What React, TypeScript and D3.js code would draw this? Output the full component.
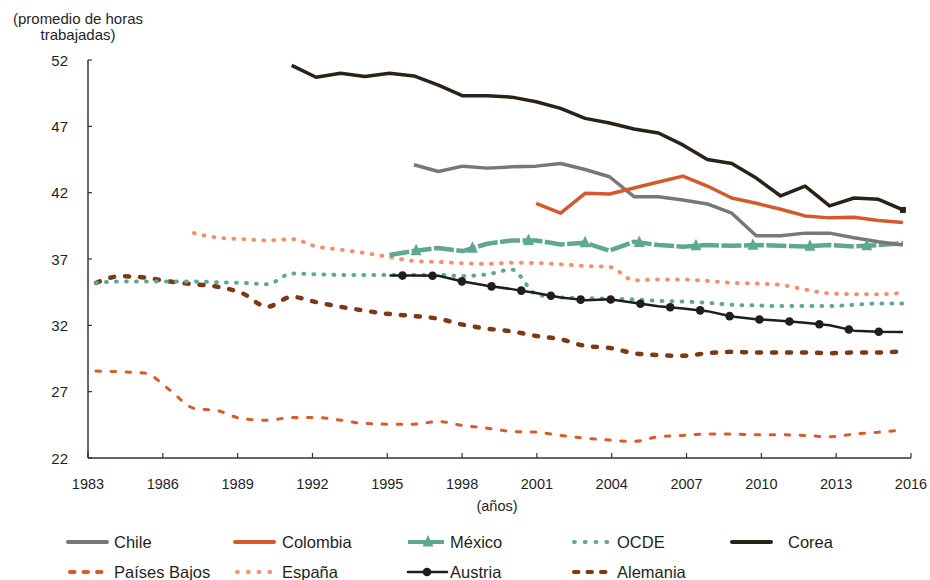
import { useMemo } from "react";
import * as d3 from "d3";

// years on the category axis
const YEARS = d3.range(1983, 2017);
const X_TICKS = d3.range(1983, 2017, 3);
const Y_TICKS = [22, 27, 32, 37, 42, 47, 52];

// average hours worked per week, each series starts at its own year
const chileStart = 1996;
const chile = [44.1, 43.6, 44.0, 43.85, 43.95, 44.0, 44.2, 43.75, 43.2, 41.7, 41.7, 41.45, 41.15, 40.45, 38.75, 38.75, 38.95, 38.95, 38.6, 38.3, 38.05];

const colombiaStart = 2001;
const colombia = [41.2, 40.45, 41.95, 41.9, 42.35, 42.8, 43.25, 42.5, 41.6, 41.2, 40.75, 40.25, 40.1, 40.15, 39.9, 39.75];

const mexicoStart = 1995;
const mexico = [37.3, 37.6, 37.83, 37.6, 38.15, 38.4, 38.4, 38.1, 38.23, 37.63, 38.3, 38.05, 37.93, 38.05, 38.0, 38.05, 38.0, 37.95, 38.05, 37.95, 38.05, 38.2];

const ocdeStart = 1983;
const ocde = [35.2, 35.3, 35.3, 35.3, 35.3, 35.25, 35.2, 35.1, 35.9, 35.85, 35.8, 35.8, 35.8, 35.8, 35.8, 35.72, 35.85, 36.2, 34.35, 34.1, 34.05, 34.0, 33.95, 33.85, 33.8, 33.7, 33.55, 33.5, 33.45, 33.45, 33.45, 33.55, 33.65, 33.65];

const coreaStart = 1991;
const corea = [51.6, 50.7, 51.0, 50.75, 51.0, 50.8, 50.1, 49.3, 49.3, 49.2, 48.85, 48.35, 47.6, 47.25, 46.8, 46.5, 45.6, 44.5, 44.2, 43.1, 41.75, 42.5, 41.0, 41.6, 41.5, 40.7];

const paisesBajosStart = 1983;
const paisesBajos = [28.55, 28.5, 28.4, 27.15, 25.75, 25.55, 24.95, 24.85, 25.05, 25.05, 24.85, 24.6, 24.55, 24.55, 24.75, 24.45, 24.25, 24.0, 23.95, 23.7, 23.5, 23.35, 23.25, 23.6, 23.7, 23.8, 23.8, 23.75, 23.75, 23.7, 23.6, 23.8, 23.95, 24.1];

const espanaStart = 1987;
const espana = [38.95, 38.6, 38.5, 38.4, 38.5, 37.95, 37.7, 37.45, 37.15, 36.85, 36.78, 36.68, 36.63, 36.72, 36.7, 36.6, 36.47, 36.4, 35.4, 35.45, 35.45, 35.35, 35.2, 35.15, 35.05, 34.7, 34.4, 34.35, 34.35, 34.45];

const austriaStart = 1995;
const austria = [35.75, 35.75, 35.74, 35.3, 34.98, 34.73, 34.44, 34.1, 33.9, 33.96, 33.7, 33.44, 33.27, 33.07, 32.66, 32.46, 32.34, 32.2, 32.0, 31.6, 31.52, 31.5];

const alemaniaStart = 1983;
const alemania = [35.2, 35.7, 35.6, 35.3, 35.1, 34.9, 34.4, 33.4, 34.15, 33.75, 33.4, 33.1, 32.85, 32.7, 32.5, 32.05, 31.75, 31.55, 31.2, 30.95, 30.45, 30.3, 29.9, 29.75, 29.7, 29.9, 30.0, 29.95, 29.95, 29.95, 29.9, 29.95, 29.95, 30.05];

type Style = { color: string; width: number; dash?: string; round?: boolean; smooth?: boolean };

const STYLES: Record<string, Style> = {
  chile: { color: "#787878", width: 3.5 },
  colombia: { color: "#d4592b", width: 3.5 },
  mexico: { color: "#5ea793", width: 4.5, dash: "20 2.5" },
  ocde: { color: "#5ea793", width: 4, dash: "0.8 9.2", round: true, smooth: true },
  corea: { color: "#2b2217", width: 3.5 },
  paises: { color: "#db5a29", width: 3, dash: "4.5 10.5", round: true, smooth: true },
  espana: { color: "#f6906c", width: 4, dash: "0.8 9.2", round: true, smooth: true },
  austria: { color: "#1e1e1e", width: 2.5 },
  alemania: { color: "#7b3a17", width: 4.5, dash: "4 11", round: true, smooth: true },
};

// drawing order (bottom first)
const SERIES = [
  { key: "paises", label: "Países Bajos", start: paisesBajosStart, values: paisesBajos },
  { key: "alemania", label: "Alemania", start: alemaniaStart, values: alemania },
  { key: "ocde", label: "OCDE", start: ocdeStart, values: ocde },
  { key: "espana", label: "España", start: espanaStart, values: espana },
  { key: "austria", label: "Austria", start: austriaStart, values: austria },
  { key: "mexico", label: "México", start: mexicoStart, values: mexico },
  { key: "chile", label: "Chile", start: chileStart, values: chile },
  { key: "colombia", label: "Colombia", start: colombiaStart, values: colombia },
  { key: "corea", label: "Corea", start: coreaStart, values: corea },
];

const LEGEND_ROWS = [
  ["chile", "colombia", "mexico", "ocde", "corea"],
  ["paises", "espana", "austria", "alemania"],
];

const W = 930;
const H = 580;
const PLOT = { left: 88, right: 911, top: 60, bottom: 458 };
const FONT = "'Liberation Sans', Arial, Helvetica, sans-serif";
const TEXT = "#1f1f1f";
const LEGEND_X = [68, 235, 408, 572, 732];
const LEGEND_TEXT_GAP = [46, 47, 42, 45, 56];
const LEGEND_Y = [542, 572];

// points at equal arc-length steps along a polyline
function alongPath(pts: [number, number][], offset: number, step: number) {
  const out: [number, number][] = [];
  let next = offset;
  let acc = 0;
  for (let i = 1; i < pts.length; i++) {
    const [x0, y0] = pts[i - 1];
    const [x1, y1] = pts[i];
    const len = Math.hypot(x1 - x0, y1 - y0);
    while (next <= acc + len) {
      const t = (next - acc) / len;
      out.push([x0 + (x1 - x0) * t, y0 + (y1 - y0) * t]);
      next += step;
    }
    acc += len;
  }
  return out;
}

function Triangle({ x, y }: { x: number; y: number }) {
  return <path d={`M${x},${y - 7}L${x - 5.5},${y + 4.5}L${x + 5.5},${y + 4.5}Z`} fill={STYLES.mexico.color} />;
}

export default function App() {
  const x = useMemo(() => d3.scalePoint<number>().domain(YEARS).range([PLOT.left, PLOT.right]).padding(0.33), []);
  const xTick = d3.scaleLinear().domain([1983, 2016]).range([PLOT.left, PLOT.right]);
  const y = d3.scaleLinear().domain([22, 52]).range([PLOT.bottom, PLOT.top]);

  const pointsOf = (s: (typeof SERIES)[number]) =>
    s.values.map((v, i) => [x(s.start + i) ?? 0, y(v)] as [number, number]);

  const linear = d3.line();
  const smooth = d3.line().curve(d3.curveMonotoneX);

  const mexicoPts = pointsOf(SERIES.find((s) => s.key === "mexico")!);
  const austriaPts = pointsOf(SERIES.find((s) => s.key === "austria")!);
  const coreaPts = pointsOf(SERIES.find((s) => s.key === "corea")!);
  const triangles = alongPath(mexicoPts, 27, 57);
  const dots = alongPath(austriaPts, 13, 30.05);
  const coreaEnd = coreaPts[coreaPts.length - 1];

  const labelOf = (k: string) => SERIES.find((s) => s.key === k)!.label;

  return (
    <div style={{ position: "absolute", left: 0, top: 0 }}>
      <svg width={W} height={H} style={{ display: "block", background: "#fff" }} fontFamily={FONT}>
        {/* y axis title */}
        <text x={78} y={18} textAnchor="middle" dominantBaseline="central" fontSize={15} fill={TEXT}>
          (promedio de horas
        </text>
        <text x={78} y={34} textAnchor="middle" dominantBaseline="central" fontSize={15} fill={TEXT}>
          trabajadas)
        </text>

        {/* axes */}
        <line x1={PLOT.left} x2={PLOT.left} y1={PLOT.top} y2={PLOT.bottom} stroke="#333" strokeWidth={1.5} />
        <line x1={PLOT.left} x2={PLOT.right} y1={PLOT.bottom} y2={PLOT.bottom} stroke="#333" strokeWidth={1.5} />
        {Y_TICKS.map((t) => (
          <g key={t}>
            <line x1={PLOT.left} x2={PLOT.left + 4} y1={y(t)} y2={y(t)} stroke="#333" strokeWidth={1.2} />
            <text x={68} y={y(t)} textAnchor="end" dominantBaseline="central" fontSize={15} fill={TEXT}>
              {t}
            </text>
          </g>
        ))}
        {X_TICKS.map((t) => (
          <g key={t}>
            <line x1={xTick(t)} x2={xTick(t)} y1={PLOT.bottom} y2={PLOT.bottom - 5} stroke="#333" strokeWidth={1.2} />
            <text x={xTick(t)} y={484} textAnchor="middle" dominantBaseline="central" fontSize={14.5} fill={TEXT}>
              {t}
            </text>
          </g>
        ))}
        <text x={497} y={506} textAnchor="middle" dominantBaseline="central" fontSize={14.5} fill={TEXT}>
          (años)
        </text>

        {/* series */}
        {SERIES.map((s) => {
          const st = STYLES[s.key];
          const gen = st.smooth ? smooth : linear;
          return (
            <path
              key={s.key}
              d={gen(pointsOf(s)) ?? ""}
              fill="none"
              stroke={st.color}
              strokeWidth={st.width}
              strokeDasharray={st.dash}
              strokeLinecap={st.round ? "round" : "butt"}
              strokeLinejoin="round"
            />
          );
        })}
        {dots.map(([cx, cy], i) => (
          <circle key={i} cx={cx} cy={cy} r={4.3} fill={STYLES.austria.color} />
        ))}
        {triangles.map(([tx, ty], i) => (
          <Triangle key={i} x={tx} y={ty} />
        ))}
        <rect x={coreaEnd[0] - 3} y={coreaEnd[1] - 3} width={6} height={6} fill={STYLES.corea.color} />

        {/* legend */}
        {LEGEND_ROWS.map((row, r) =>
          row.map((k, c) => {
            const st = STYLES[k];
            const x0 = LEGEND_X[c];
            const x1 = x0 + (st.dash ? 36 : 39);
            const ly = LEGEND_Y[r];
            return (
              <g key={k}>
                <line
                  x1={x0 + (st.round ? 2 : 0)}
                  x2={x1}
                  y1={ly}
                  y2={ly}
                  stroke={st.color}
                  strokeWidth={k === "austria" ? 2.5 : 4}
                  strokeDasharray={k === "mexico" ? undefined : k === "paises" || k === "alemania" ? "4.5 9" : st.dash ? "0.8 10" : undefined}
                  strokeLinecap={st.round || !st.dash ? "round" : "butt"}
                />
                {k === "mexico" && <Triangle x={x0 + 20} y={ly} />}
                {k === "austria" && <circle cx={x0 + 19} cy={ly} r={4.3} fill={st.color} />}
                <text x={x0 + LEGEND_TEXT_GAP[c]} y={ly} dominantBaseline="central" fontSize={16.5} fill={TEXT}>
                  {labelOf(k)}
                </text>
              </g>
            );
          })
        )}
      </svg>
    </div>
  );
}
